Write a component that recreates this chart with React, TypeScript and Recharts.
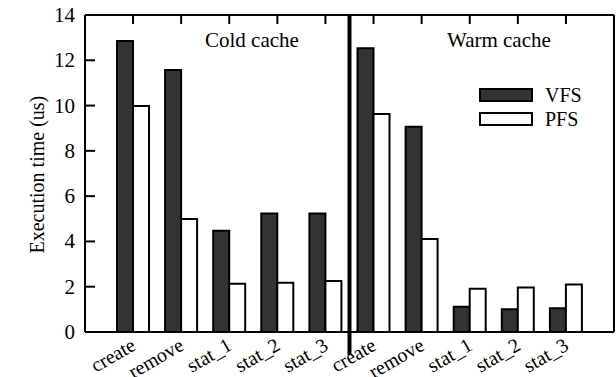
import { BarChart, Bar, XAxis, YAxis, ReferenceLine } from 'recharts'

const categories = ['create', 'remove', 'stat_1', 'stat_2', 'stat_3', 'create', 'remove', 'stat_1', 'stat_2', 'stat_3']
const groups = ['cold', 'cold', 'cold', 'cold', 'cold', 'warm', 'warm', 'warm', 'warm', 'warm']
const vfs = [12.85, 11.57, 4.47, 5.23, 5.23, 12.53, 9.07, 1.12, 1.0, 1.05]
const pfs = [9.98, 4.99, 2.13, 2.18, 2.25, 9.63, 4.11, 1.91, 1.97, 2.1]
const yTicks = [0, 2, 4, 6, 8, 10, 12, 14]
const seriesNames = ['VFS', 'PFS']

const data = categories.map((name, i) => ({ id: `${groups[i]}-${i}`, name, VFS: vfs[i], PFS: pfs[i] }))

const FONT = '"Liberation Serif", "Times New Roman", serif'
const DARK = '#333333'

function BottomTick({ x, y, index }: any) {
  const tx = x + 4
  const ty = y + 17
  return (
    <text x={tx} y={ty} textAnchor="end" fontFamily={FONT} fontSize={20} fill="#000"
      transform={`rotate(-30 ${tx} ${ty})`}>
      {categories[index]}
    </text>
  )
}

function TopTick({ x, y }: any) {
  return <line x1={x} x2={x} y1={y} y2={y + 9} stroke="#000" strokeWidth={2} />
}

function LeftTick({ x, y, payload }: any) {
  return (
    <g>
      <line x1={x} x2={x + 10} y1={y} y2={y} stroke="#000" strokeWidth={2} />
      <text x={x - 10} y={y} dy={7} textAnchor="end" fontFamily={FONT} fontSize={21} fill="#000">
        {payload.value}
      </text>
    </g>
  )
}

function RightTick({ x, y }: any) {
  return <line x1={x} x2={x - 9} y1={y} y2={y} stroke="#000" strokeWidth={2} />
}

function Divider(props: any) {
  const { x1, y1, x2, y2 } = props
  if (x1 == null) return null
  return <line x1={x1} x2={x2} y1={Math.min(y1, y2)} y2={Math.max(y1, y2) + 23} stroke="#000" strokeWidth={4} />
}

function LegendBox() {
  return (
    <div style={{ position: 'absolute', left: 479, top: 83, fontFamily: FONT, fontSize: 20, lineHeight: '24px' }}>
      {seriesNames.map((n, i) => (
        <div key={n} style={{ display: 'flex', alignItems: 'center', height: 24 }}>
          <span style={{ display: 'inline-block', width: 50, height: 10, border: '2px solid #000', background: i === 0 ? DARK : '#fff', marginRight: 12 }} />
          <span>{n}</span>
        </div>
      ))}
    </div>
  )
}

export default function App() {
  return (
    <div style={{ position: 'absolute', left: 0, top: 0, width: 616, height: 377, background: '#fff' }}>
      <BarChart width={616} height={377} data={data} barGap={0} barSize={16}
        margin={{ top: 14, right: 1, bottom: 1, left: 25 }}>
        <XAxis dataKey="id" interval={0} padding={{ left: 24, right: 24 }} height={44}
          tickLine={false} tickSize={0} tickMargin={0} tick={<BottomTick />}
          axisLine={{ stroke: '#000', strokeWidth: 2 }} />
        <XAxis xAxisId="top" orientation="top" dataKey="id" interval={0} padding={{ left: 24, right: 24 }} height={1}
          tickLine={false} tickSize={0} tickMargin={0} tick={<TopTick />}
          axisLine={{ stroke: '#000', strokeWidth: 2 }} />
        <YAxis domain={[0, 14]} ticks={yTicks} width={60} interval={0}
          tickLine={false} tickSize={0} tickMargin={0} tick={<LeftTick />}
          axisLine={{ stroke: '#000', strokeWidth: 2 }}
          label={{ value: 'Execution time (us)', angle: -90, position: 'insideLeft', offset: 12, dy: 80, style: { fontFamily: FONT, fontSize: 20, fill: '#000' } }} />
        <YAxis yAxisId="right" orientation="right" domain={[0, 14]} ticks={yTicks} width={1} interval={0}
          tickLine={false} tickSize={0} tickMargin={0} tick={<RightTick />}
          axisLine={{ stroke: '#000', strokeWidth: 2 }} />
        <Bar dataKey="VFS" fill={DARK} stroke="#000" strokeWidth={2} isAnimationActive={false} />
        <Bar dataKey="PFS" fill="#fff" stroke="#000" strokeWidth={2} isAnimationActive={false} />
        <ReferenceLine x={data[4].id} position="end" shape={<Divider />} ifOverflow="visible" />
      </BarChart>
      <LegendBox />
      <div style={{ position: 'absolute', left: 205, top: 27, fontFamily: FONT, fontSize: 21, lineHeight: '26px' }}>Cold cache</div>
      <div style={{ position: 'absolute', left: 447, top: 27, fontFamily: FONT, fontSize: 21, lineHeight: '26px' }}>Warm cache</div>
    </div>
  )
}
